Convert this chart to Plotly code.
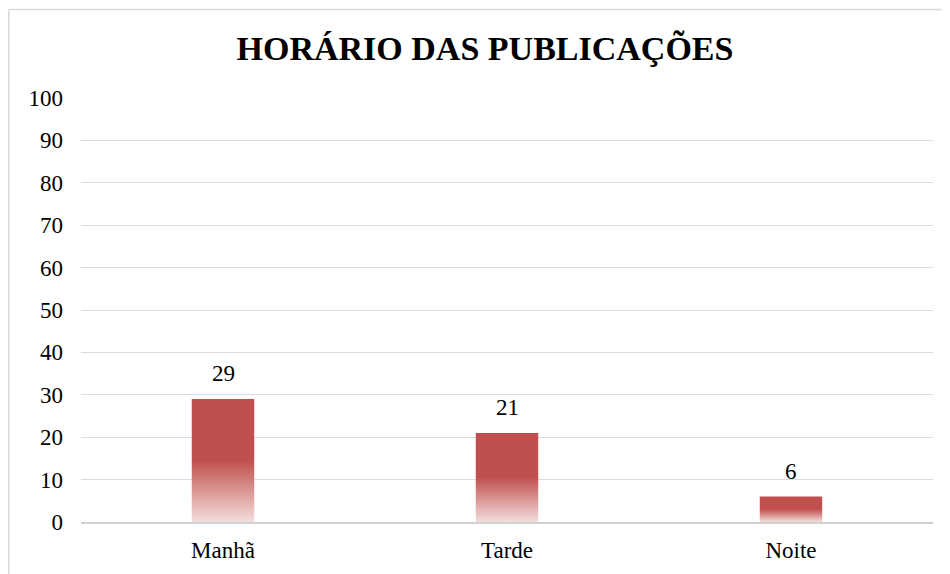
import plotly.graph_objects as go

categories = ["Manhã", "Tarde", "Noite"]
values = [29, 21, 6]
y_ticks = [0, 10, 20, 30, 40, 50, 60, 70, 80, 90, 100]
title_text = "HORÁRIO DAS PUBLICAÇÕES"

RED = "#C0504D"
FADE = "#F3DEDD"
SERIF = "Liberation Serif, Times New Roman, serif"
half_w = 0.11

fig = go.Figure()

for i, (cat, v) in enumerate(zip(categories, values)):
    fig.add_trace(go.Scatter(
        x=[i - half_w, i + half_w, i + half_w, i - half_w, i - half_w],
        y=[0, 0, v, v, 0],
        mode="lines",
        line=dict(width=0),
        fill="toself",
        fillgradient=dict(type="vertical",
                          colorscale=[[0, FADE], [0.5, RED], [1, RED]]),
        hoverinfo="skip",
        showlegend=False,
    ))

annotations = [
    dict(x=i, y=v, xref="x", yref="y", text=str(v), showarrow=False,
         yanchor="bottom", yshift=11,
         font=dict(family=SERIF, size=23, color="#000000"))
    for i, v in enumerate(values)
]

bx0 = (0.75 - 73) / 852
by1 = (514 - 1.5) / 424
border = dict(color="#D9D9D9", width=1.5)

fig.update_layout(
    width=942, height=566,
    margin=dict(l=73, r=17, t=90, b=52),
    paper_bgcolor="white",
    plot_bgcolor="white",
    title=dict(text="<b>" + title_text + "</b>",
               font=dict(family=SERIF, size=34, color="#000000"),
               x=477 / 942, xanchor="center", xref="container",
               y=1 - 40 / 566, yanchor="middle", yref="container"),
    xaxis=dict(range=[-0.5, 2.5],
               tickvals=list(range(len(categories))),
               ticktext=categories,
               showgrid=False, zeroline=False, automargin=False,
               showline=True, linecolor="#D0D0D0", linewidth=1.5,
               ticks="", ticklabelstandoff=7,
               tickfont=dict(family=SERIF, size=23, color="#000000")),
    yaxis=dict(range=[0, 100], tickvals=y_ticks,
               showgrid=True, gridcolor="#DCDCDC", gridwidth=1,
               zeroline=False, showline=False, ticks="", automargin=False,
               ticklabelstandoff=17,
               tickfont=dict(family=SERIF, size=23, color="#000000")),
    annotations=annotations,
    shapes=[
        dict(type="line", xref="paper", yref="paper",
             x0=bx0, x1=bx0, y0=-0.2, y1=by1, line=border, layer="below"),
        dict(type="line", xref="paper", yref="paper",
             x0=bx0, x1=1.1, y0=by1, y1=by1, line=border, layer="below"),
    ],
)

fig.write_html("out.html")
